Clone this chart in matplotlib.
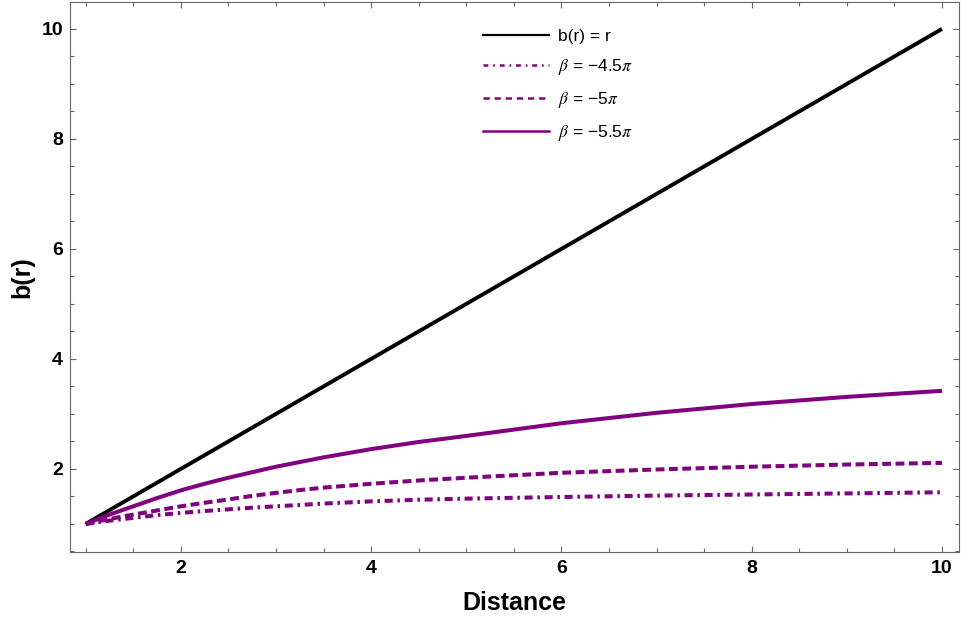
import matplotlib
matplotlib.use("Agg")
import matplotlib.pyplot as plt
from matplotlib.lines import Line2D
from matplotlib.ticker import MultipleLocator

plt.rcParams['font.family'] = ['Liberation Sans', 'DejaVu Sans']
plt.rcParams['mathtext.fontset'] = 'stix'
plt.rcParams['lines.scale_dashes'] = False

# data
r_line = [1, 10]
b_line = [1, 10]
r = [1, 1.25, 1.5, 1.75, 2, 2.25, 2.5, 2.75, 3, 3.25, 3.5, 4, 4.5, 5, 6, 7, 8, 9, 10]
b_45 = [1.0, 1.06, 1.11, 1.16, 1.20, 1.235, 1.265, 1.295, 1.32, 1.345, 1.37, 1.41, 1.44, 1.46, 1.49, 1.515, 1.535, 1.555, 1.575]
b_50 = [1.0, 1.09, 1.17, 1.245, 1.32, 1.385, 1.445, 1.51, 1.565, 1.615, 1.66, 1.73, 1.79, 1.84, 1.93, 1.99, 2.04, 2.08, 2.11]
b_55 = [1.0, 1.17, 1.32, 1.47, 1.61, 1.73, 1.84, 1.94, 2.04, 2.125, 2.21, 2.36, 2.49, 2.60, 2.83, 3.02, 3.18, 3.31, 3.42]
labels = ['b(r) = r', r'$\beta$ = −4.5$\pi$', r'$\beta$ = −5$\pi$', r'$\beta$ = −5.5$\pi$']

purple = '#800080'
fig = plt.figure(figsize=(9.61, 6.23), dpi=100)
ax = fig.add_axes([0.0728, 0.114, 0.998 - 0.0728, 0.9968 - 0.114])

ax.plot(r_line, b_line, color='black', lw=2.8, solid_capstyle='butt')
ax.plot(r, b_45, color=purple, lw=2.9, linestyle=(0, (5.8, 3.4, 1.8, 3.4)))
ax.plot(r, b_50, color=purple, lw=2.9, linestyle=(0, (6.4, 3.2)))
ax.plot(r, b_55, color=purple, lw=2.9, solid_capstyle='butt')

ax.set_xlim(0.835, 10.18)
ax.set_ylim(0.49, 10.49)
ax.xaxis.set_minor_locator(MultipleLocator(0.5))
ax.yaxis.set_minor_locator(MultipleLocator(0.5))
ax.set_xticks([2, 4, 6, 8, 10])
ax.set_yticks([2, 4, 6, 8, 10])

spine_col = '#666666'
for s in ax.spines.values():
    s.set_color(spine_col)
    s.set_linewidth(0.8)
ax.tick_params(which='both', direction='in', top=True, right=True, color=spine_col, width=0.8)
ax.tick_params(which='major', length=4.5, labelsize=14)
ax.tick_params(axis='x', which='major', pad=6)
ax.tick_params(axis='y', which='major', pad=5)
ax.tick_params(which='minor', length=2.6)
for lab in ax.get_xticklabels() + ax.get_yticklabels():
    lab.set_fontweight('bold')

ax.set_xlabel('Distance', fontsize=18, fontweight='bold', labelpad=10)
ax.set_ylabel('b(r)', fontsize=18, fontweight='bold', labelpad=5)

handles = [
    Line2D([], [], color='black', lw=1.6),
    Line2D([], [], color=purple, lw=1.8, linestyle=(0, (3.5, 3.5, 1.2, 3.5))),
    Line2D([], [], color=purple, lw=1.8, linestyle=(0, (4.5, 3.5))),
    Line2D([], [], color=purple, lw=1.8),
]
leg = ax.legend(handles, labels, loc='upper left', bbox_to_anchor=(0.4567, 0.964),
                frameon=False, fontsize=12.5, handlelength=3.8, handletextpad=0.5,
                labelspacing=0.75, borderaxespad=0)

fig.savefig('out.png', dpi=100)
